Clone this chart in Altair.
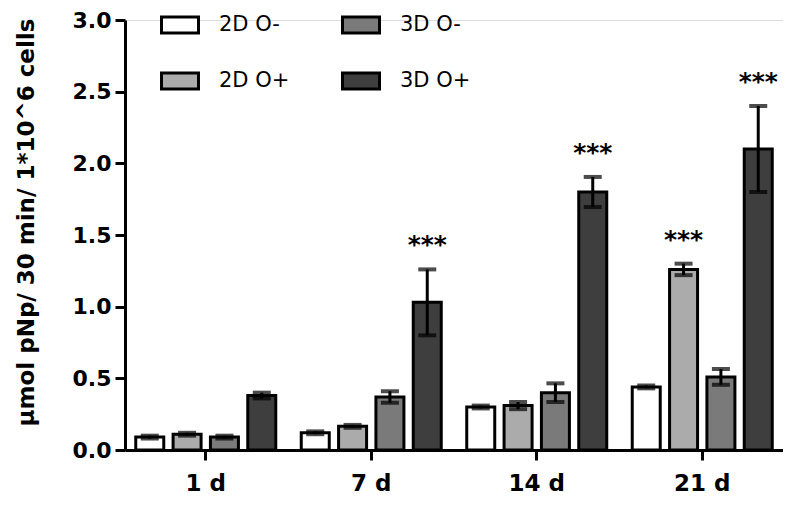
import altair as alt
import pandas as pd

days = ["1 d", "7 d", "14 d", "21 d"]
groups = ["2D O-", "2D O+", "3D O-", "3D O+"]
legend_colors = ["#ffffff", "#ababab", "#7a7a7a", "#3e3e3e"]

means = {
    "2D O-": [0.09, 0.12, 0.30, 0.44],
    "2D O+": [0.11, 0.165, 0.31, 1.26],
    "3D O-": [0.09, 0.37, 0.40, 0.51],
    "3D O+": [0.38, 1.03, 1.80, 2.10],
}
errors = {
    "2D O-": [0.01, 0.01, 0.01, 0.01],
    "2D O+": [0.01, 0.01, 0.025, 0.04],
    "3D O-": [0.01, 0.04, 0.065, 0.055],
    "3D O+": [0.02, 0.23, 0.105, 0.30],
}
stars = {
    "2D O-": ["", "", "", ""],
    "2D O+": ["", "", "", "***"],
    "3D O-": ["", "", "", ""],
    "3D O+": ["", "***", "***", "***"],
}
y_ticks = [0.0, 0.5, 1.0, 1.5, 2.0, 2.5, 3.0]

rows = []
for g in groups:
    for i, d in enumerate(days):
        m = means[g][i]
        e = errors[g][i]
        rows.append({"day": d, "group": g, "mean": m, "lo": m - e, "hi": m + e, "star": stars[g][i]})
df = pd.DataFrame(rows)

FONT = "DejaVu Sans"

x_enc = alt.X("day:N", sort=days,
              scale=alt.Scale(paddingInner=0.154, paddingOuter=0.065),
              axis=alt.Axis(title=None, labelAngle=0, labelFont=FONT, labelFontSize=23,
                            labelFontWeight="bold", labelColor="black", labelPadding=12,
                            tickSize=10, tickWidth=3, tickColor="black",
                            domainWidth=3, domainColor="black", grid=False))
xoff = alt.XOffset("group:N", sort=groups, scale=alt.Scale(paddingInner=0.25, paddingOuter=0))

y_scale = alt.Scale(domain=[0, 3], nice=False)

bars = alt.Chart(df).mark_bar(stroke="black", strokeWidth=3).encode(
    x=x_enc,
    xOffset=xoff,
    y=alt.Y("mean:Q", scale=y_scale,
            axis=alt.Axis(values=y_ticks, format=".1f", title="µmol pNp/ 30 min/ 1*10^6 cells",
                          labelFont=FONT, labelFontSize=22, labelFontWeight="bold",
                          labelColor="black", labelPadding=4,
                          tickSize=10, tickWidth=3, tickColor="black",
                          domainWidth=3, domainColor="black", grid=False,
                          titleFont=FONT, titleFontSize=23, titleFontWeight="bold",
                          titleColor="black", titleAngle=270, titleAlign="center",
                          titleBaseline="alphabetic", titleX=-92, titleY=202)),
    color=alt.Color("group:N",
                    scale=alt.Scale(domain=groups, range=legend_colors),
                    legend=alt.Legend(title=None, orient="none", legendX=35, legendY=-15,
                                      values=groups,
                                      columns=2, columnPadding=46, rowPadding=22,
                                      symbolType="M-1,-0.43H1V0.43H-1Z", symbolSize=1369,
                                      symbolStrokeColor="black", symbolStrokeWidth=3,
                                      symbolOpacity=1, labelFont=FONT, labelFontSize=21,
                                      labelColor="black", labelOffset=19, padding=0,
                                      symbolOffset=0)),
)

rules = alt.Chart(df).mark_rule(color="black", strokeWidth=3).encode(
    x=alt.X("day:N", sort=days),
    xOffset=xoff,
    y=alt.Y("lo:Q", scale=y_scale),
    y2="hi:Q",
)

cap_hi = alt.Chart(df).mark_tick(color="black", orient="horizontal", size=18, thickness=4).encode(
    x=alt.X("day:N", sort=days),
    xOffset=xoff,
    y=alt.Y("hi:Q", scale=y_scale),
)
cap_lo = alt.Chart(df).mark_tick(color="black", orient="horizontal", size=18, thickness=4).encode(
    x=alt.X("day:N", sort=days),
    xOffset=xoff,
    y=alt.Y("lo:Q", scale=y_scale),
)

text = alt.Chart(df).mark_text(font=FONT, fontSize=25, fontWeight="bold", color="black",
                               baseline="alphabetic", dy=-16).encode(
    x=alt.X("day:N", sort=days),
    xOffset=xoff,
    y=alt.Y("hi:Q", scale=y_scale),
    text="star:N",
)

chart = alt.layer(bars, rules, cap_hi, cap_lo, text).properties(
    width=658, height=430,
    autosize=alt.AutoSizeParams(type="none"),
    padding={"left": 117, "top": 12, "right": 0, "bottom": 48},
).configure_view(stroke=None).configure(background="white")

chart.save("out.html", embed_options={"renderer": "svg", "actions": False})
